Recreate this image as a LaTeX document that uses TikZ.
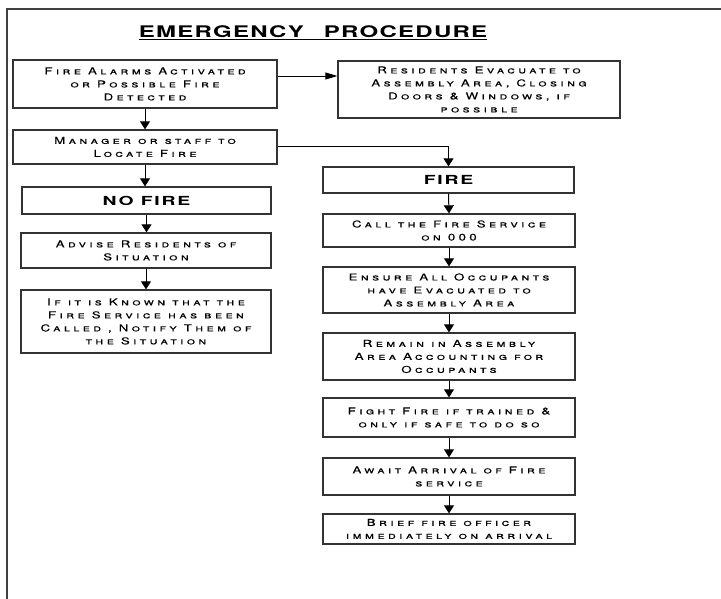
\documentclass[tikz,border=0pt]{standalone}
\usepackage{fontspec}
\setmainfont{TeX Gyre Heros}
\newfontfamily\boxfont{TeX Gyre Heros}[FakeStretch=1.4, LetterSpace=35, FakeBold=0.15]
\newfontfamily\headfont{TeX Gyre Heros}[FakeStretch=1.5, LetterSpace=8]
\newfontfamily\labfont{TeX Gyre Heros}[FakeStretch=1.55, LetterSpace=14]
\usetikzlibrary{arrows.meta}
\tikzset{
  stepbox/.style={draw=black!80, line width=1.3pt, inner sep=0pt, align=center,
    font={\boxfont\scshape\fontsize{9.5}{13}\selectfont}},
  headbox/.style={draw=black!80, line width=1.3pt, inner sep=0pt, align=center,
    font={\labfont\bfseries\fontsize{12.5}{14}\selectfont}},
  arr/.style={draw=black, line width=1pt, -{Triangle[width=10pt,length=8pt]}},
  harr/.style={draw=black, line width=0.8pt, -{Triangle[width=7pt,length=12pt]}},
  frame/.style={draw=black!75, line width=2pt}
}
\begin{document}
\begin{tikzpicture}[x=1pt,y=-1pt]
\useasboundingbox[fill=white] (0,0) rectangle (721,599);
\draw[frame] (6.5,599) -- (6.5,9.5) -- (721,9.5);

\node[font={\headfont\bfseries\fontsize{16}{19}\selectfont}] (title) at (313,33)
  {\underline{EMERGENCY\hspace{20pt}PROCEDURE}};

\node[stepbox, minimum width=264pt, minimum height=48pt] (b1) at (145,84)
  {Fire Alarms Activated\\or Possible Fire\\Detected};
\node[stepbox, minimum width=282pt, minimum height=57pt] (b2) at (479,89.5)
  {Residents Evacuate to\\Assembly Area, Closing\\Doors \& Windows, if\\possible};
\node[stepbox, minimum width=264pt, minimum height=34pt] (b3) at (145,147)
  {Manager or staff to\\Locate Fire};
\node[headbox, minimum width=249pt, minimum height=27pt] (nofire) at (146.5,200.5)
  {NO FIRE};
\node[stepbox, minimum width=250pt, minimum height=35pt] (advise) at (146,250.5)
  {Advise Residents of\\Situation};
\node[stepbox, minimum width=250pt, minimum height=63pt] (known) at (146,321.5)
  {If it is Known that the\\Fire Service has been\\Called , Notify Them of\\the Situation};

\node[headbox, minimum width=251pt, minimum height=26pt] (fire) at (448.5,180)
  {FIRE};
\node[stepbox, minimum width=252pt, minimum height=33pt] (call) at (449,230.5)
  {Call the Fire Service\\on 000};
\node[stepbox, minimum width=252pt, minimum height=46pt] (ensure) at (449,290)
  {Ensure All Occupants\\have Evacuated to\\Assembly Area};
\node[stepbox, minimum width=252pt, minimum height=47pt] (remain) at (449,356.5)
  {Remain in Assembly\\Area Accounting for\\Occupants};
\node[stepbox, minimum width=252pt, minimum height=39pt] (fight) at (449,417.5)
  {Fight Fire if trained \&\\only if safe to do so};
\node[stepbox, minimum width=252pt, minimum height=37pt] (await) at (449,476.5)
  {Await Arrival of Fire\\service};
\node[stepbox, minimum width=252pt, minimum height=30pt] (brief) at (449,529)
  {Brief fire officer\\immediately on arrival};

\draw[harr] ([yshift=8pt]b1.east) -- ([yshift=8pt]b1.east -| b2.west);
\draw[arr] (b1.south) -- (b3.north);
\draw[arr] (b3.south) -- (b3.south |- nofire.north);
\draw[arr] (nofire.south) -- (nofire.south |- advise.north);
\draw[arr] (advise.south) -- (known.north);
\draw[arr] (b3.east) -- (b3.east -| fire.north) -- (fire.north);
\draw[arr] (fire.south) -- (call.north);
\draw[arr] (call.south) -- (ensure.north);
\draw[arr] (ensure.south) -- (remain.north);
\draw[arr] (remain.south) -- (fight.north);
\draw[arr] (fight.south) -- (await.north);
\draw[arr] (await.south) -- (brief.north);
\end{tikzpicture}
\end{document}
